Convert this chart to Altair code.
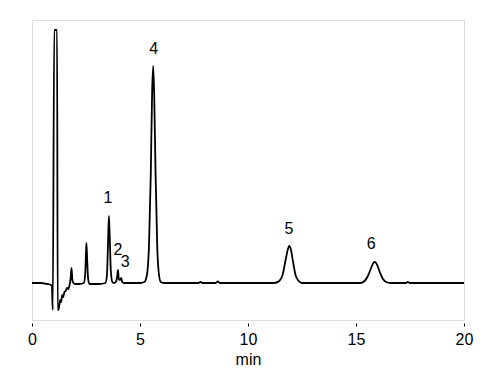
import altair as alt
import pandas as pd

# chromatogram trace (time in min, detector signal in arbitrary units)
times = [0.0, 0.4, 0.7, 0.88, 0.92, 0.96, 1.03, 1.16, 1.19, 1.22, 1.26, 1.31, 1.35, 1.40, 1.45,
         1.50, 1.56, 1.62, 1.68, 1.74, 1.79, 1.83, 1.87, 1.92, 2.0, 2.2, 2.40, 2.46, 2.50, 2.52,
         2.55, 2.60, 2.66, 2.8, 3.1, 3.40, 3.47, 3.52, 3.56, 3.60, 3.65, 3.72, 3.80, 3.88, 3.94,
         3.98, 4.02, 4.07, 4.13, 4.18, 4.26, 4.6, 5.0, 5.2, 5.32, 5.42, 5.50, 5.56, 5.61, 5.66,
         5.72, 5.80, 5.88, 5.96, 6.1, 7.0, 7.7, 7.8, 7.9, 8.5, 8.6, 8.7, 10.0, 11.2, 11.45, 11.6,
         11.75, 11.85, 11.91, 11.98, 12.08, 12.2, 12.35, 12.5, 14.0, 15.2, 15.4, 15.55, 15.7,
         15.8, 15.88, 15.98, 16.1, 16.25, 16.4, 16.6, 17.3, 17.4, 17.5, 20.0]
signal = [0, 0, -1, -2, -3, -27, 253, 253, -27, -27, -23, -17, -19, -12, -14,
          -9, -8, -5, -6, -2, 5, 15, 3, 0, -1, -1, 0, 8, 30, 40,
          25, 4, -1, -1, -1, 0, 8, 40, 67, 45, 12, 1, 0, 1, 6,
          13, 4, 3, 5, 1, 0, 0, 0, 1, 8, 40, 110, 190, 217, 185,
          110, 35, 8, 1, 0, 0, 0, 1, 0, 0, 1.5, 0, 0, 0, 2, 8,
          24, 34, 37, 34, 22, 8, 2, 0, 0, 0, 2, 7, 15,
          20, 21, 18, 11, 4, 1, 0, 0, 1, 0, 0]

# peak labels
peak_labels = ["1", "2", "3", "4", "5", "6"]
label_t = [3.52, 3.98, 4.32, 5.64, 11.9, 15.7]
label_s = [85.5, 33, 21, 234, 54, 39.5]

tick_values = [0, 5, 10, 15, 20]

trace = pd.DataFrame({"t": times, "s": signal})
labels = pd.DataFrame({"t": label_t, "s": label_s, "lab": peak_labels})

FONT = "Liberation Sans"

x_scale = alt.Scale(domain=[0, 20], nice=False, zero=False)
y_scale = alt.Scale(domain=[-37, 263], nice=False, zero=False)

line = alt.Chart(trace).mark_line(
    color="black", strokeWidth=1.8, interpolate="monotone", clip=True
).encode(
    x=alt.X("t:Q", scale=x_scale, axis=alt.Axis(
        values=tick_values, title="min", domain=False, grid=False,
        ticks=True, tickSize=3, tickColor="black", tickWidth=1, offset=3,
        labelFontSize=16, labelFont=FONT, labelColor="black", labelPadding=5,
        labelFlush=False,
        titleFontSize=16, titleFont=FONT, titleFontWeight="normal", titleColor="black",
        titlePadding=4,
    )),
    y=alt.Y("s:Q", scale=y_scale, axis=None),
)

text = alt.Chart(labels).mark_text(
    font=FONT, fontSize=16, color="black", align="center", baseline="middle"
).encode(
    x=alt.X("t:Q", scale=x_scale),
    y=alt.Y("s:Q", scale=y_scale),
    text="lab:N",
)

chart = alt.layer(line, text).properties(
    width=432, height=300,
    autosize=alt.AutoSizeParams(type="none"),
    padding={"left": 32, "top": 20, "right": 27, "bottom": 58},
).configure_view(stroke=None).configure(background="white")

chart.save("out.html", embed_options={"renderer": "svg", "actions": False})
